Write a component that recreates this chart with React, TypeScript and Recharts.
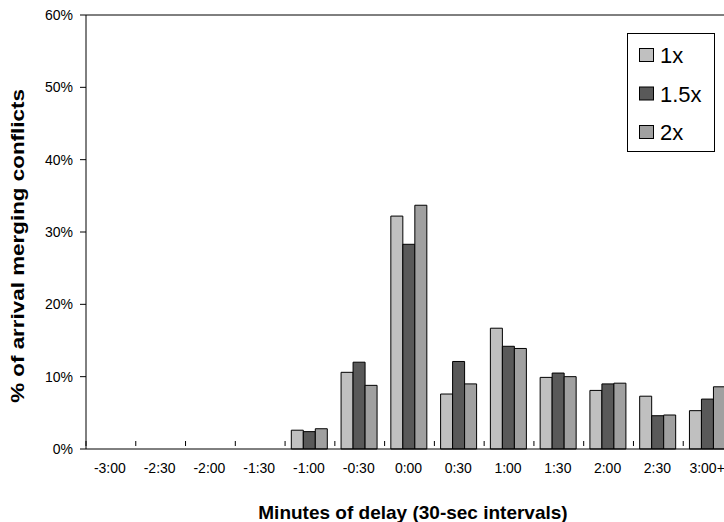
import React from "react"
import { BarChart, Bar, XAxis, YAxis, ReferenceLine } from "recharts"

const categories = ["-3:00", "-2:30", "-2:00", "-1:30", "-1:00", "-0:30", "0:00", "0:30", "1:00", "1:30", "2:00", "2:30", "3:00+"]
const values1x = [0, 0, 0, 0, 2.6, 10.6, 32.2, 7.6, 16.7, 9.9, 8.1, 7.3, 5.3]
const values15x = [0, 0, 0, 0, 2.4, 12.0, 28.3, 12.1, 14.2, 10.5, 9.0, 4.6, 6.9]
const values2x = [0, 0, 0, 0, 2.8, 8.8, 33.7, 9.0, 13.9, 10.0, 9.1, 4.7, 8.6]
const yTicks = [0, 10, 20, 30, 40, 50, 60]

const series = [
  { key: "s1", name: "1x", color: "#c0c0c0" },
  { key: "s15", name: "1.5x", color: "#595959" },
  { key: "s2", name: "2x", color: "#a0a0a0" },
]

const data = categories.map((c, i) => ({
  cat: c,
  s1: values1x[i],
  s15: values15x[i],
  s2: values2x[i],
}))

const FONT = "'Liberation Sans', Arial, sans-serif"
// the chart runs a little past the right edge of the window, like the original
const W = 748
const H = 522
const M = { top: 15, right: 15, left: 0, bottom: 43 }
const Y_W = 86
const BAND = (W - M.left - M.right - Y_W) / categories.length

const XTick = (props: any) => {
  const { x, y, payload, index } = props
  const half = BAND / 2
  return (
    <g>
      <line x1={x - half} x2={x - half} y1={y - 8} y2={y - 3} stroke="#000" />
      {index === categories.length - 1 && (
        <line x1={x + half} x2={x + half} y1={y - 8} y2={y - 3} stroke="#000" />
      )}
      <text x={x - 1} y={y + 24} textAnchor="middle" fontSize={14} fill="#000" fontFamily={FONT}>
        {payload.value}
      </text>
    </g>
  )
}

export default function App() {
  return (
    <div style={{ position: "fixed", left: 0, top: 0, width: 724, height: H, overflow: "hidden", background: "#fff" }}>
      <BarChart width={W} height={H} data={data} margin={M} barCategoryGap="12.5%" barGap={0}>
        <XAxis
          dataKey="cat"
          height={30}
          interval={0}
          tickLine={false}
          tickSize={0}
          tickMargin={0}
          axisLine={{ stroke: "#000" }}
          tick={<XTick />}
        />
        <YAxis
          width={Y_W}
          domain={[0, 60]}
          ticks={yTicks}
          tickSize={6}
          tickMargin={7}
          tickFormatter={(v: number) => `${v}%`}
          axisLine={{ stroke: "#000" }}
          tickLine={{ stroke: "#000" }}
          tick={{ fill: "#000", fontSize: 14, fontFamily: FONT }}
        />
        <ReferenceLine y={60} stroke="#000" />
        {series.map((s) => (
          <Bar key={s.key} dataKey={s.key} name={s.name} fill={s.color} stroke="#000" strokeWidth={1} isAnimationActive={false} />
        ))}
      </BarChart>
      <svg width={W} height={H} style={{ position: "absolute", left: 0, top: 0, pointerEvents: "none" }}>
        <text x={413} y={519} textAnchor="middle" fontSize={19} fontWeight="bold" fontFamily={FONT} fill="#000">
          Minutes of delay (30-sec intervals)
        </text>
        <text
          transform="translate(24, 246) rotate(-90) scale(1.18, 1)"
          textAnchor="middle"
          fontSize={19}
          fontWeight="bold"
          fontFamily={FONT}
          fill="#000"
        >
          % of arrival merging conflicts
        </text>
        <g transform="translate(627, 33)">
          <rect x={0.5} y={0.5} width={87} height={118} fill="#fff" stroke="#000" />
          {series.map((s, i) => (
            <g key={s.key} transform={`translate(0, ${22 + i * 38.5})`}>
              <rect x={12.5} y={-6.5} width={14} height={13} fill={s.color} stroke="#000" />
              <text x={33} y={8} fontSize={22} fontFamily={FONT} fill="#000">
                {s.name}
              </text>
            </g>
          ))}
        </g>
      </svg>
    </div>
  )
}
